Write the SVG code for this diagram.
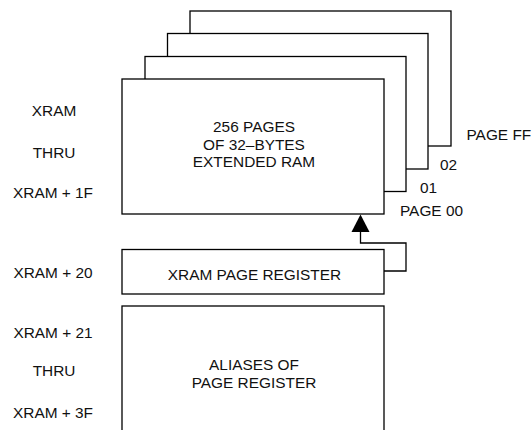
<svg xmlns="http://www.w3.org/2000/svg" width="532" height="430" viewBox="0 0 532 430">
<style>
.box{fill:#fff;stroke:#000;stroke-width:1.3}
.ln{fill:none;stroke:#000;stroke-width:1.3}
text{font-family:"Liberation Sans",Arial,sans-serif;font-size:15.4px;fill:#111}
.c{text-anchor:middle}
</style>
<rect width="532" height="430" fill="#fff"/>
<g id="page-ff"><rect class="box" x="190" y="11" width="261" height="135"/></g>
<g id="page-02"><rect class="box" x="167.5" y="33.5" width="260.5" height="135.5"/></g>
<g id="page-01"><rect class="box" x="145" y="56.5" width="261" height="135"/></g>
<g id="page-00">
<rect class="box" x="122" y="79" width="262" height="135"/>
<text class="c" x="254" y="131.5">256 PAGES</text>
<text class="c" x="254" y="149.5">OF 32–BYTES</text>
<text class="c" x="254" y="167">EXTENDED RAM</text>
</g>
<g id="page-register">
<rect class="box" x="122" y="249.5" width="262" height="44.5"/>
<text class="c" x="254.5" y="280">XRAM PAGE REGISTER</text>
</g>
<g id="aliases">
<rect class="box" x="122" y="306" width="262" height="140"/>
<text class="c" x="254" y="370">ALIASES OF</text>
<text class="c" x="254" y="387.5">PAGE REGISTER</text>
</g>
<g id="connectors">
<polyline class="ln" points="384,271 406,271 406,243 360.5,243 360.5,230"/>
<polygon points="360.5,214.5 351.5,232 369.5,232" fill="#000"/>
</g>
<g id="labels">
<text x="466.5" y="140">PAGE FF</text>
<text x="440" y="170">02</text>
<text x="420" y="193">01</text>
<text x="400" y="215.5">PAGE 00</text>
<text class="c" x="54" y="115.7">XRAM</text>
<text class="c" x="54" y="157.7">THRU</text>
<text class="c" x="53" y="198.3">XRAM + 1F</text>
<text class="c" x="53" y="278.3">XRAM + 20</text>
<text class="c" x="53" y="338.3">XRAM + 21</text>
<text class="c" x="54" y="376">THRU</text>
<text class="c" x="53" y="418.3">XRAM + 3F</text>
</g>
</svg>
